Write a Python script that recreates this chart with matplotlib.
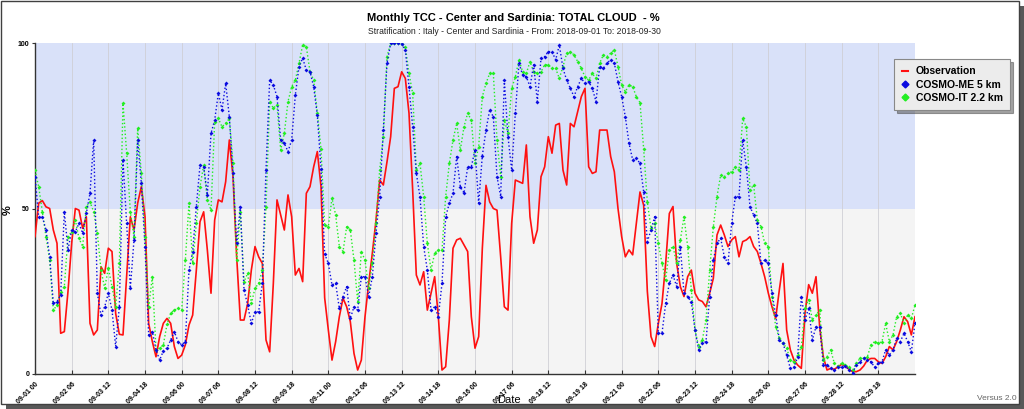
import matplotlib
matplotlib.use('Agg')
import matplotlib.pyplot as plt
from matplotlib.patches import Rectangle
from matplotlib.lines import Line2D
import numpy as np

plt.rcParams['font.family'] = ['Liberation Sans', 'DejaVu Sans']

# ---- data (3-hourly, from 2018-09-01 00 to 2018-10-01 00) ----
observation = [
    41.5, 51.6, 52.4, 50.5, 50, 43.5, 39.5, 12.3, 12.8, 25, 39.5, 50, 49.5, 44, 47.5, 15.3, 11.8, 13.3, 32.4, 30.4,
    38, 37, 18.3, 12, 11.8, 29.4, 47.5, 43.5, 51.6, 56.6, 47.5, 15.3, 9.8, 5.2, 11.3, 15.3, 16.8,
    15.3, 8.3, 4.7, 5.7, 8.8, 14.8, 17.8, 31.4, 46, 49, 37.5, 24.4, 46.5, 52.6, 52, 58.1, 70.7, 59.6, 35.4, 16.3,
    16.3, 21.3, 31.4, 38.5, 35.4, 33.4, 10.3, 6.7, 27.4, 52.6, 48, 43.5, 54.1, 47.5, 29.9, 31.9, 27.9, 54.6, 56.6,
    62.6, 67.2, 56.6, 23, 13.3,
    4.2, 9.8, 17.3, 22.9, 20.3, 15.8, 6.2, 1.2, 4.2, 17.3, 27.4, 36.5, 46.5, 58.6, 57.1, 64.1, 71.7, 86.3, 86.8, 91.3,
    89.3, 78.8, 55.6, 29.9, 26.9, 30.9, 19.3, 24.4, 29.4, 17.3, 1.2, 2.2, 16.3, 38, 40.5, 41, 39, 37, 17.3, 7.8,
    11.3, 38, 57, 52,
    50, 49.5, 35.4, 20.3, 19.3, 45.5, 58.6, 58.1, 57.6, 69.2, 47.5, 39.5, 43.5, 59.6, 62.6, 71.7, 66.7, 75.2, 75.7,
    61.6, 57.1, 75.7, 74.7, 79.3, 83.8, 86.3, 62.6, 60.6, 61.1, 73.7, 73.7, 73.7, 65.7, 61.1, 50, 41.5, 35.4, 37.5,
    36, 45.5, 55, 51, 25,
    11.3, 8.3, 15.3, 21.3, 33.4, 48.5, 50.6, 33.4, 26.4, 23.4, 29.4, 31.4, 24.4, 22.4, 21.9, 20.3, 24.4, 28.9, 42,
    45, 42, 38.5, 40.5, 41.5, 35.4, 40, 40.5, 41.5, 38.5, 37, 33.4, 29.4, 24.4, 20.3, 16.8, 25.4, 33.4, 13.3, 7.3,
    4.2, 2.7, 1.7, 18.3, 27,
    24.4, 29.4, 14.3, 5.2, 1.2, 1.7, 1.4, 2.2, 2.9, 2.4, 1.4, 0.7, 0.7, 1.2, 2.4, 4.2, 4.7, 4.7, 3.7, 3.2, 5.2, 8.3,
    7.3, 9.8, 13.3, 17.3, 15.8, 11.8, 17.3,
]

cosmo_me = [
    59.6, 47.5, 47.5, 43.5, 35.4, 21.3, 21.9, 23.9, 49, 37.5, 43.5, 43, 45.5, 42.5, 48.5, 54.6, 70.7, 24.4, 17.8,
    20.3, 24.4, 19.3, 8.3, 20.3, 64.7, 45.5, 25.9, 40.5, 70.7, 57.6, 38.5, 11.8, 12.8, 7.3, 4.2, 7, 7.8,
    10.3, 12.8, 9.8, 8.8, 9.8, 31.4, 37, 50.6, 63.1, 62.6, 54.1, 72.7, 76.7, 84.8, 79.8, 87.8, 77.7, 60.6, 39.5,
    50.6, 25.4, 20.8, 15.3, 18.8, 18.8, 27.4, 61.6, 88.8, 87.3, 83.8, 70.7, 69.7, 67.2, 70.7, 84.3, 92.9, 95.4,
    91.8, 91.3, 86.8, 78.2, 62, 36.3, 33.4,
    26.9, 27.4, 19.8, 23.4, 26.4, 16.8, 20.3, 19.3, 29.4, 29.4, 23.4, 29.4, 42.5, 53.6, 73.7, 93.9, 99.9, 99.9,
    99.9, 99.7, 97.9, 86.8, 74.7, 60.6, 53.6, 38.5, 31.4, 19.3, 20.3, 17.3, 27.4, 47.5, 51.6, 54.6, 65.7, 56.6,
    54.6, 62.6, 62.6, 67.7, 51.6, 66, 73.7, 79.8,
    77.7, 59.6, 53.6, 88.8, 71.7, 61.6, 78.8, 93.9, 90.3, 89.8, 86.8, 93.4, 82.3, 95.4, 95.9, 97.4, 97.4, 94.9,
    99.4, 92.3, 88.8, 86.3, 83.8, 86.8, 89.3, 87.8, 88.3, 86.3, 82.3, 92.9, 92.3, 93.9, 94.9, 93.9, 88.3, 83.8,
    77.7, 69.7, 64.7, 65.2, 63.6, 55, 40,
    43.5, 47.5, 12.3, 12.3, 21.3, 27.4, 29.9, 26.4, 38.5, 24.4, 23.4, 21.9, 13.3, 7.3, 9.3, 9.8, 23.4, 34.4, 39.5,
    41, 35.4, 33.4, 45.5, 53.6, 53.6, 70.7, 62.6, 50.6, 48, 45.5, 33.4, 34.4, 33.4, 24.4, 17.8, 10.3, 9.3, 5.7,
    1.7, 2, 5.2, 23.4, 16.3, 20,
    10.3, 14.3, 14.3, 2.7, 2.7, 1.7, 1.2, 2.2, 2, 2.4, 1.2, 0.4, 2.7, 3.7, 4.7, 4.2, 3.7, 2, 3.2, 3.7, 7.3, 5.7,
    7.3, 10.8, 9.8, 12.3, 9.8, 6.7, 15.3,
]

cosmo_it = [
    61.6, 56.6, 49, 41.5, 34.4, 19.3, 20.8, 24.9, 26.4, 41.5, 43, 46.5, 41, 38.5, 50.5, 52, 49, 42.5, 31.4, 25.9,
    32, 26.4, 20.3, 33.4, 81.8, 66.7, 49, 41.5, 74.2, 60.6, 41.5, 20.3, 29.4, 7.3, 7.8, 8.8, 15,
    18.3, 19.3, 19.8, 19.3, 34.4, 51.6, 33.4, 45.5, 56.6, 63.1, 52.6, 49.5, 76.2, 77.2, 74.7, 75.7, 77.2, 63.6,
    34.4, 49, 27.9, 30.4, 21.3, 25.9, 27.4, 31.4, 50.6, 82.3, 80.3, 81.3, 67.7, 72.7, 82.3, 86.8, 88.8, 93.9,
    99.4, 98.9, 91.3, 88.8, 78.8, 68, 45, 44.5,
    53.1, 48, 38.5, 37, 44.5, 43.5, 34.4, 21.9, 37, 34.4, 25.9, 33.4, 45.5, 61.6, 71.7, 95.9, 99.9, 99.9, 99.9,
    99.7, 98.9, 90.8, 84.8, 61.6, 63.6, 53.6, 39.5, 31.4, 36.5, 37.5, 37.5, 53.6, 63.6, 70.7, 75.7, 67.7, 74.7,
    78.8, 76.7, 63.6, 68.7, 83.8, 87.8, 90.8,
    90.8, 70.7, 59.6, 76.7, 72.7, 86.3, 89.8, 94.9, 91.3, 90.8, 94.4, 91.3, 90.8, 91.3, 93.4, 93.4, 92.3, 92.3,
    89.3, 92.9, 96.9, 97.4, 96.4, 94.4, 92.3, 89.8, 88.8, 90.8, 89.3, 93.9, 96.4, 95.9, 96.9, 97.9, 92.9, 87.3,
    85.3, 87.3, 86.8, 83.8, 82, 68, 52,
    44, 45.5, 39.5, 33.4, 28.4, 37.5, 38.5, 33.4, 40.5, 47.5, 38.5, 25.4, 13.3, 8.3, 10.3, 16.3, 31.4, 44.5, 53.6,
    60.1, 59.6, 60.6, 61.1, 62.6, 61.6, 77.2, 74.7, 55.6, 57.1, 46.5, 44.5, 39.5, 38.5, 23.4, 14.3, 10.8, 9.3,
    7.8, 4.2, 3.7, 5.7, 8.3, 20, 22.5,
    16.3, 17.8, 19.3, 4.2, 5.2, 7.3, 3.2, 2.4, 3.2, 2.7, 2, 1.2, 3.2, 4.7, 4.7, 5.2, 8.8, 9.8, 9.3, 9.8, 15.3,
    9.8, 11.8, 17.3, 18.3, 15.3, 17.8, 16.8, 20.8,
]

tick_labels = ['09-01 00', '09-02 06', '09-03 12', '09-04 18', '09-06 00', '09-07 06', '09-08 12', '09-09 18',
               '09-11 00', '09-12 06', '09-13 12', '09-14 18', '09-16 00', '09-17 06', '09-18 12', '09-19 18',
               '09-21 00', '09-22 06', '09-23 12', '09-24 18', '09-26 00', '09-27 06', '09-28 12', '09-29 18']

hours = np.arange(len(observation)) * 3          # hours since 2018-09-01 00
tick_pos = np.arange(len(tick_labels)) * 30       # one tick every 30 h

W, H = 1024, 409
fig = plt.figure(figsize=(W / 100, H / 100), dpi=100)
fig.patch.set_facecolor('white')

# frame with drop shadow
fig.add_artist(Rectangle((6 / W, 0), 1 - 6 / W, 1 - 6 / H, transform=fig.transFigure,
                         facecolor='#585858', edgecolor='none', zorder=-20))
fig.add_artist(Rectangle((0.5 / W, 5 / H), 1018.5 / W, 1 - 5.5 / H, transform=fig.transFigure,
                         facecolor='white', edgecolor='#404040', lw=1.0, zorder=-19))

ax = fig.add_axes([35 / W, 35 / H, 880 / W, 331 / H])
ax.set_xlim(0, 720)
ax.set_ylim(0, 100)
ax.axhspan(50, 100, color='#d9e1f9', zorder=0, lw=0)
ax.axhspan(0, 50, color='#f4f4f4', zorder=0, lw=0)
for t in tick_pos:
    ax.axvline(t, color='#cfcfd6', lw=0.6, zorder=0.5)

ax.plot(hours, observation, color='#ff1010', lw=1.2, zorder=3, label='Observation')
ax.plot(hours, cosmo_it, color='#22ee22', lw=1.0, ls=':', marker='D', ms=2.0, mew=0, zorder=4,
        label='COSMO-IT 2.2 km')
ax.plot(hours, cosmo_me, color='#0a0ae0', lw=1.0, ls=':', marker='D', ms=2.0, mew=0, zorder=5,
        label='COSMO-ME 5 km')

for s in ['top', 'right']:
    ax.spines[s].set_visible(False)
for s in ['left', 'bottom']:
    ax.spines[s].set_color('#333333')
    ax.spines[s].set_linewidth(1.0)

ax.set_yticks([0, 50, 100])
ax.set_yticklabels(['0', '50', '100'], fontsize=5, fontweight='bold')
ax.tick_params(axis='y', length=2, width=0.8, color='#333333', pad=2)
ax.set_xticks(tick_pos)
ax.set_xticklabels(tick_labels, fontsize=5, fontweight='bold', rotation=45, ha='right',
                   rotation_mode='anchor')
ax.tick_params(axis='x', direction='in', length=3, width=0.8, color='#333333', pad=5)

fig.text(513 / W, 1 - 18 / H, 'Monthly TCC - Center and Sardinia: TOTAL CLOUD  - %',
         ha='center', va='center', fontsize=8, fontweight='bold')
fig.text(514 / W, 1 - 32 / H,
         'Stratification : Italy - Center and Sardinia - From: 2018-09-01 To: 2018-09-30',
         ha='center', va='center', fontsize=6.2, color='#222222')
fig.text(8 / W, 1 - 210 / H, '%', rotation=90, ha='center', va='center', fontsize=8, fontweight='bold')
fig.text(509 / W, 1 - 400 / H, 'Date', ha='center', va='center', fontsize=8)
fig.text(1017 / W, 1 - 399 / H, 'Versus 2.0', ha='right', va='center', fontsize=6, color='#666666')

handles = [
    Line2D([], [], color='#ff1010', lw=1.5),
    Line2D([], [], color='#0a0ae0', lw=0, marker='D', ms=3.5),
    Line2D([], [], color='#22ee22', lw=0, marker='D', ms=3.5),
]
leg = fig.legend(handles, ['Observation', 'COSMO-ME 5 km', 'COSMO-IT 2.2 km'],
                 loc='upper left', bbox_to_anchor=(889 / W, 1 - 54 / H),
                 prop={'size': 7.5, 'weight': 'bold'}, handlelength=0.6, handletextpad=0.8,
                 labelspacing=0.3, borderpad=0.7, fancybox=False, shadow=True,
                 facecolor='#ececec', edgecolor='#888888', framealpha=1)
leg.get_frame().set_linewidth(0.8)

fig.savefig('out.png', dpi=100)
